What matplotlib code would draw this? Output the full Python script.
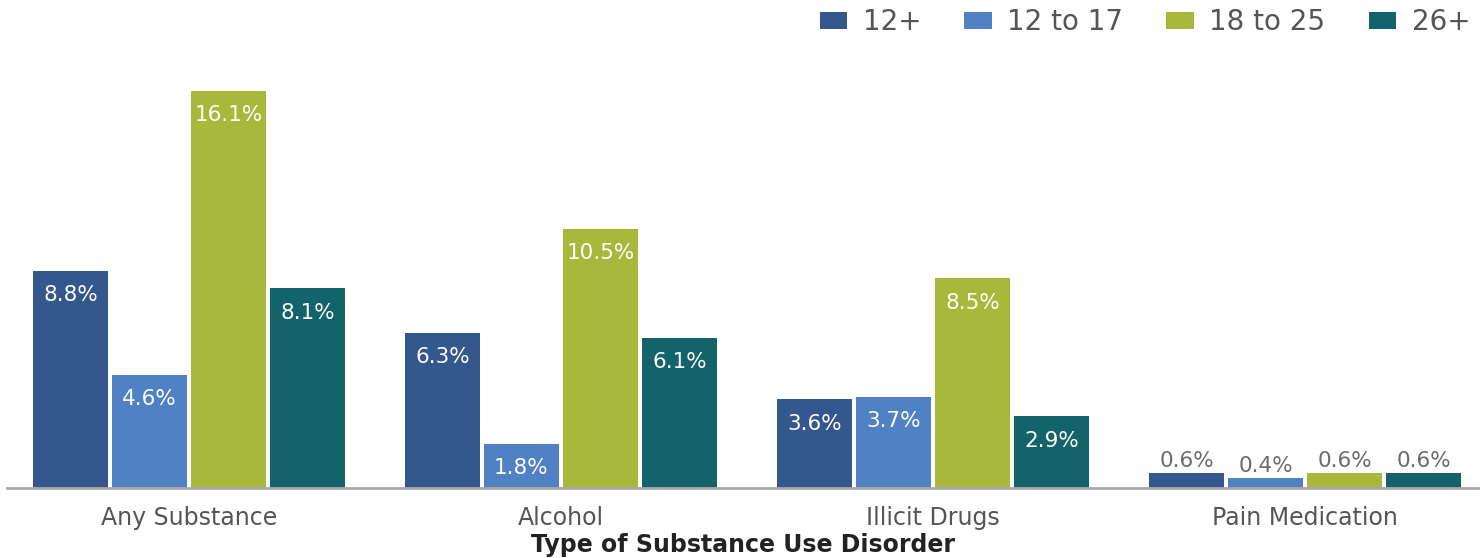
import matplotlib.pyplot as plt
import numpy as np

# Data
categories = ['Any Substance', 'Alcohol', 'Illicit Drugs', 'Pain Medication']
age_groups = ['12+', '12 to 17', '18 to 25', '26+']
vals_12plus = [8.8, 6.3, 3.6, 0.6]
vals_12to17 = [4.6, 1.8, 3.7, 0.4]
vals_18to25 = [16.1, 10.5, 8.5, 0.6]
vals_26plus = [8.1, 6.1, 2.9, 0.6]
colors = ['#34578E', '#4F81C4', '#A8B83A', '#12636A']

plt.rcParams['font.family'] = ['DejaVu Sans']

fig = plt.figure(figsize=(14.8, 5.58), dpi=100)
ax = fig.add_axes([7 / 1480, 70 / 558, 1 - 7 / 1480, 431.5 / 558])

x = np.arange(len(categories))
width = 0.2016
step = 0.2124
series = [vals_12plus, vals_12to17, vals_18to25, vals_26plus]

for i, (vals, col, lab) in enumerate(zip(series, colors, age_groups)):
    pos = x + (i - 1.5) * step
    bars = ax.bar(pos, vals, width, color=col, label=lab)
    for b, v in zip(bars, vals):
        # small bars get their label above, others inside in white
        if v < 1.0:
            ax.annotate(f'{v}%', (b.get_x() + b.get_width() / 2, v),
                        xytext=(0, 8.5), textcoords='offset points',
                        ha='center', va='center', fontsize=15.5, color='#6b6b6b')
        else:
            ax.annotate(f'{v}%', (b.get_x() + b.get_width() / 2, v),
                        xytext=(0, -17.5), textcoords='offset points',
                        ha='center', va='center', fontsize=15.5, color='white')

ax.set_xlim(-0.489, 3.47)
ax.set_ylim(0, 17.5)
ax.set_yticks([])
ax.set_xticks(x)
ax.set_xticklabels(categories, fontsize=17, color='#555555')
ax.tick_params(axis='x', length=0, pad=13)
for s in ['top', 'right', 'left']:
    ax.spines[s].set_visible(False)
ax.spines['bottom'].set_color('#aaaaaa')
ax.spines['bottom'].set_linewidth(2)

fig.text(743 / 1480, 1 - 545 / 558, 'Type of Substance Use Disorder',
         ha='center', va='center', fontsize=17, fontweight='bold', color='#222222')

leg = fig.legend(loc='upper right', bbox_to_anchor=(0.999, 1.0), ncol=4,
                 frameon=False, fontsize=20, handlelength=1.0, handleheight=0.55,
                 columnspacing=1.55, handletextpad=0.55, borderaxespad=0.15,
                 borderpad=0.15, labelcolor='#555555')

fig.savefig('out.png', dpi=100)
